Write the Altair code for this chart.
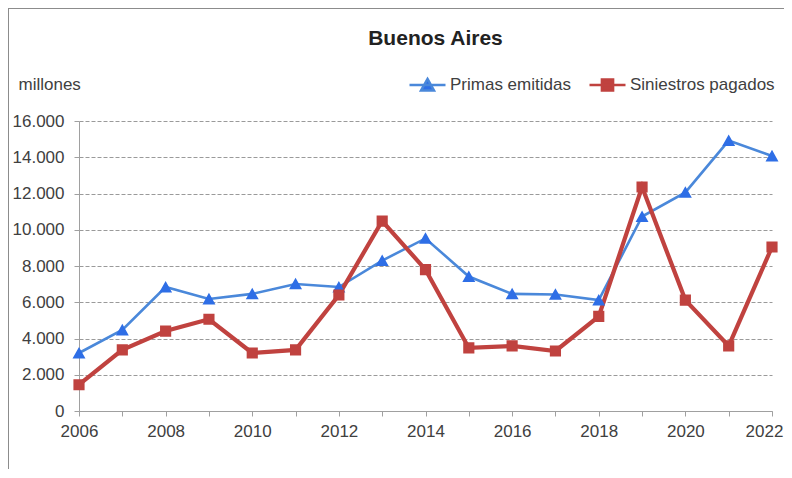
import altair as alt
import pandas as pd

# ---- data ----
years = list(range(2006, 2023))
primas = [3200, 4470, 6840, 6180, 6460, 7010, 6840, 8300, 9520, 7420,
          6460, 6430, 6120, 10730, 12060, 14920, 14070]
siniestros = [1450, 3370, 4410, 5060, 3200, 3370, 6400, 10480, 7800, 3480,
              3590, 3310, 5220, 12360, 6120, 3590, 9050]
series_names = ["Primas emitidas", "Siniestros pagados"]
y_ticks = list(range(0, 16001, 2000))

# ---- styles ----
line_colors = ["#4a88da", "#c0423f"]
marker_colors = ["#2e6ee6", "#c0423f"]
line_widths = [2.6, 4.2]
marker_paths = [
    "M-1,0H1M0,-0.34L0.36,0.3L-0.36,0.3Z",
    "M-1,0H1M-0.31,-0.31H0.31V0.31H-0.31Z",
]
FONT = "Liberation Sans"
TXT = "#404040"

df = pd.DataFrame({
    "Año": years * 2,
    "Valor": primas + siniestros,
    "Serie": [series_names[0]] * len(years) + [series_names[1]] * len(years),
})

x_enc = alt.X(
    "Año:Q",
    scale=alt.Scale(domain=[2006, 2022], nice=False, zero=False),
    axis=alt.Axis(
        values=years, format="d",
        labelExpr="datum.value % 2 == 0 ? datum.label : ''",
        title=None, grid=False, labelPadding=7, tickSize=5,
        labelFlush=False, labelOverlap=False,
        labelOffset={"condition": {"test": "datum.value == 2022", "value": -8}, "value": 0},
    ),
)
y_enc = alt.Y(
    "Valor:Q",
    scale=alt.Scale(domain=[0, 16000], nice=False),
    axis=alt.Axis(
        values=y_ticks,
        labelExpr="replace(format(datum.value, ','), ',', '.')",
        title="millones", titleAngle=0, titleAlign="left",
        titleBaseline="alphabetic", titleX=-61, titleY=-32,
        titleFont=FONT, titleFontSize=17, titleFontWeight="normal",
        titleColor=TXT, labelPadding=10, tickSize=5,
        grid=True, gridDash=[4, 2], gridColor="#9a9a9a", gridWidth=1,
    ),
)

leg = alt.Legend(
    title=None, orient="none", legendX=329, legendY=-56,
    direction="horizontal", symbolSize=1296, symbolStrokeWidth=2.5,
    symbolOpacity=1, labelFont=FONT, labelFontSize=17, labelColor=TXT,
    labelOffset=3, columnPadding=13, padding=0,
)

is_first = alt.datum.Serie == series_names[0]

base = alt.Chart(df)

lines = base.mark_line().encode(
    x=x_enc, y=y_enc,
    detail="Serie:N",
    stroke=alt.condition(is_first, alt.value(line_colors[0]), alt.value(line_colors[1])),
    strokeWidth=alt.condition(is_first, alt.value(line_widths[0]), alt.value(line_widths[1])),
)

points = base.mark_point(filled=True, size=1296, opacity=1).encode(
    x=x_enc, y=y_enc,
    fill=alt.Fill("Serie:N", scale=alt.Scale(domain=series_names, range=marker_colors), legend=leg),
    stroke=alt.Stroke("Serie:N", scale=alt.Scale(domain=series_names, range=line_colors), legend=leg),
    shape=alt.Shape("Serie:N", scale=alt.Scale(domain=series_names, range=marker_paths), legend=leg),
    strokeWidth=alt.value(0),
)

frame_data = alt.Data(values=[{"k": 1}])
frame_left = alt.Chart(frame_data).mark_rule(color="#8c8c8c", strokeWidth=1).encode(
    x=alt.value(-70.5), y=alt.value(-112.5), y2=alt.value(352)
)
frame_top = alt.Chart(frame_data).mark_rule(color="#8c8c8c", strokeWidth=1).encode(
    x=alt.value(-71), x2=alt.value(712), y=alt.value(-112.5)
)

chart = alt.layer(frame_left, frame_top, lines, points).properties(
    width=693, height=290,
    autosize=alt.AutoSizeParams(type="none"),
    padding={"left": 71, "top": 113, "right": 12, "bottom": 58},
    title=alt.TitleParams(
        "Buenos Aires", font=FONT, fontSize=21, fontWeight="bold",
        color="#222222", anchor="middle", frame="group", dx=10,
        baseline="alphabetic", offset=-58,
    ),
).configure(background="white").configure_view(stroke=None).configure_axis(
    labelFont=FONT, labelFontSize=17, labelColor=TXT,
    domainColor="#a0a0a0", tickColor="#a0a0a0", domainWidth=1, tickWidth=1,
)

chart.save("out.html", embed_options={"renderer": "svg", "actions": False})
